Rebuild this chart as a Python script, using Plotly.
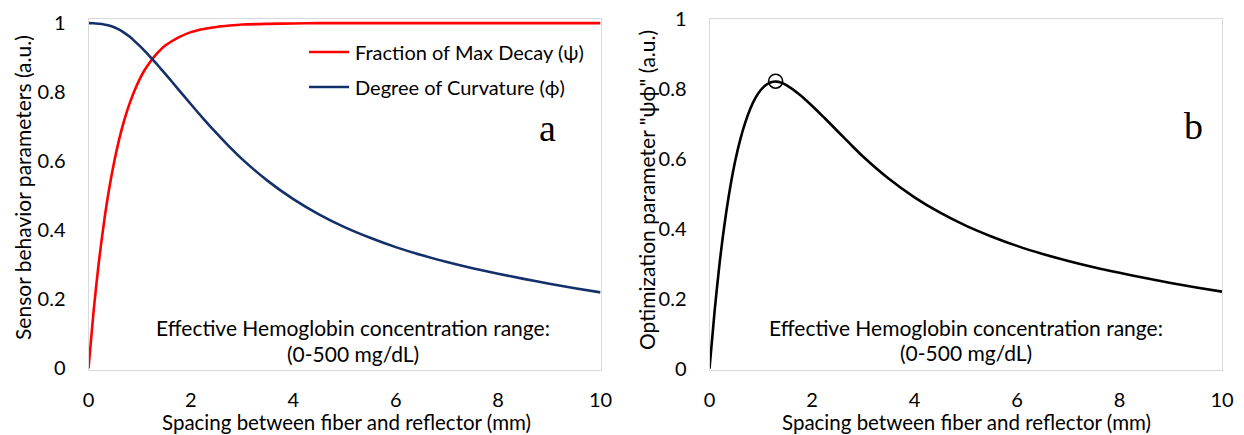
import plotly.graph_objects as go

# ---- data ----
spacing_mm = [0, 0.1, 0.2, 0.3, 0.4, 0.5, 0.6, 0.7, 0.8, 0.9, 1.0, 1.1, 1.2, 1.3, 1.4,
              1.5, 1.75, 2.0, 2.25, 2.5, 2.75, 3.0, 3.5, 4.0, 4.5, 5.0, 5.5, 6.0, 6.5,
              7.0, 7.5, 8.0, 8.5, 9.0, 9.5, 10.0]
psi_fraction_max_decay = [0, 0.166, 0.305, 0.42, 0.517, 0.597, 0.664, 0.72, 0.766, 0.805,
                          0.838, 0.865, 0.887, 0.906, 0.922, 0.935, 0.958, 0.974, 0.983,
                          0.989, 0.993, 0.996, 0.998, 0.999, 1.0, 1.0, 1.0, 1.0, 1.0, 1.0,
                          1.0, 1.0, 1.0, 1.0, 1.0, 1.0]
phi_degree_curvature = [1.0, 0.9995, 0.998, 0.996, 0.993, 0.988, 0.981, 0.972, 0.961,
                        0.948, 0.934, 0.919, 0.903, 0.887, 0.870, 0.853, 0.809, 0.765,
                        0.722, 0.681, 0.642, 0.606, 0.543, 0.49, 0.446, 0.409, 0.378,
                        0.351, 0.328, 0.308, 0.29, 0.274, 0.259, 0.245, 0.232, 0.22]
psiphi_optimization = [0, 0.165, 0.305, 0.42, 0.515, 0.593, 0.655, 0.705, 0.745, 0.775,
                       0.797, 0.811, 0.819, 0.821, 0.818, 0.811, 0.785, 0.752, 0.716,
                       0.679, 0.642, 0.606, 0.543, 0.49, 0.446, 0.409, 0.378, 0.351,
                       0.328, 0.308, 0.29, 0.274, 0.259, 0.245, 0.232, 0.22]
peak_x = [1.29]
peak_y = [0.822]
tick_vals_x = [0, 2, 4, 6, 8, 10]
tick_vals_y = [0, 0.2, 0.4, 0.6, 0.8, 1]
tick_text_y = ["0", "0.2", "0.4", "0.6", "0.8", "1"]

FONT = "Lato"
FS = 21
W, H = 1244, 435

RED = "#ff0000"
NAVY = "#14306b"

fig = go.Figure()
line_kw = dict(width=2.6, shape="spline", smoothing=0.8)
fig.add_trace(go.Scatter(x=spacing_mm, y=psi_fraction_max_decay, mode="lines",
                         line=dict(color=RED, **line_kw),
                         xaxis="x", yaxis="y", name="Fraction of Max Decay (ψ)",
                         showlegend=False))
fig.add_trace(go.Scatter(x=spacing_mm, y=phi_degree_curvature, mode="lines",
                         line=dict(color=NAVY, **line_kw),
                         xaxis="x", yaxis="y", name="Degree of Curvature (ϕ)",
                         showlegend=False))
fig.add_trace(go.Scatter(x=spacing_mm, y=psiphi_optimization, mode="lines",
                         line=dict(color="black", **line_kw),
                         xaxis="x2", yaxis="y2", showlegend=False))
fig.add_trace(go.Scatter(x=peak_x, y=peak_y, mode="markers",
                         marker=dict(symbol="circle-open", size=14,
                                     line=dict(color="black", width=1.6), color="black"),
                         xaxis="x2", yaxis="y2", showlegend=False))

def px_x(p):
    return p / W

def px_y(p):
    return 1 - p / H

axis_common = dict(showgrid=False, zeroline=False, showline=True, mirror=True,
                   linecolor="#d9d9d9", linewidth=1, ticks="", automargin=False,
                   tickfont=dict(family=FONT, size=20, color="black"))

fig.update_layout(
    width=W, height=H,
    margin=dict(l=0, r=0, t=0, b=0, autoexpand=False),
    paper_bgcolor="white", plot_bgcolor="white",
    xaxis=dict(domain=[px_x(88.5), px_x(600.5)], range=[0, 10], tickvals=tick_vals_x,
               anchor="y", ticklabelstandoff=12, **axis_common),
    yaxis=dict(domain=[px_y(370), px_y(19)], range=[-0.005, 1.012], tickvals=tick_vals_y,
               ticktext=tick_text_y, anchor="x", ticklabelstandoff=18, **axis_common),
    xaxis2=dict(domain=[px_x(709.5), px_x(1222)], range=[0, 10], tickvals=tick_vals_x,
                anchor="y2", ticklabelstandoff=12, **axis_common),
    yaxis2=dict(domain=[px_y(370), px_y(19)], range=[-0.004, 1.0], tickvals=tick_vals_y,
                ticktext=tick_text_y, anchor="x2", ticklabelstandoff=18, **axis_common),
)

def txt(x, y, s, size=FS, family=FONT, angle=0, xanchor="center"):
    fig.add_annotation(x=px_x(x), y=px_y(y), xref="paper", yref="paper", text=s,
                       showarrow=False, textangle=angle, xanchor=xanchor, yanchor="middle",
                       font=dict(family=family, size=size, color="black"))

# axis titles
txt(346, 422, "Spacing between fiber and reflector (mm)", size=20.5)
txt(966, 422, "Spacing between fiber and reflector (mm)", size=20.5)
txt(22, 188, "Sensor behavior parameters (a.u.)", angle=-90)
txt(646, 190, "Optimization parameter \"ψϕ\" (a.u.)", angle=-90)

# inner notes
txt(353, 327, "Effective Hemoglobin concentration range:")
txt(353, 353, "(0-500 mg/dL)")
txt(966, 327, "Effective Hemoglobin concentration range:")
txt(966, 352, "(0-500 mg/dL)")

# panel letters
txt(547, 128, "a", size=38, family="Liberation Serif")
txt(1193, 126, "b", size=38, family="Liberation Serif")

# manual legend
for yy, col, label in [(52, RED, "Fraction of Max Decay (ψ)"),
                       (87, NAVY, "Degree of Curvature (ϕ)")]:
    fig.add_shape(type="line", xref="paper", yref="paper",
                  x0=px_x(309), x1=px_x(349), y0=px_y(yy), y1=px_y(yy),
                  line=dict(color=col, width=2.6))
    txt(353, yy, label, size=20, xanchor="left")

fig.write_html("out.html")
